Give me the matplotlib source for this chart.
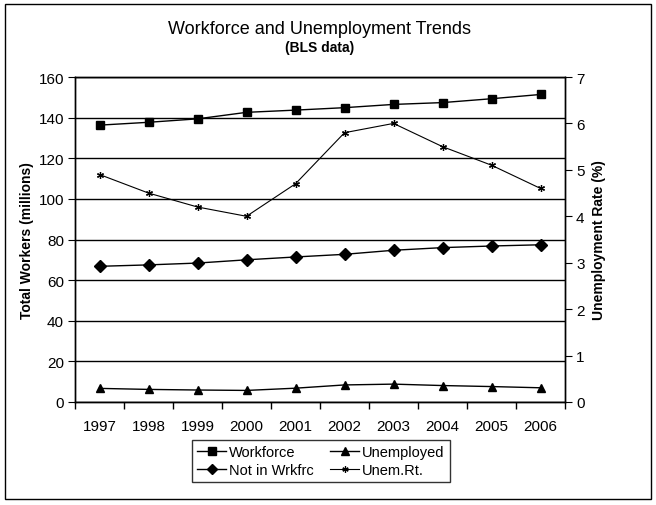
import matplotlib
matplotlib.use('Agg')
import matplotlib.pyplot as plt
import matplotlib.patches as mpatches
import numpy as np

plt.rcParams['font.family'] = ['Liberation Sans', 'DejaVu Sans']

years = ['1997', '1998', '1999', '2000', '2001', '2002', '2003', '2004', '2005', '2006']
workforce = [136.3, 137.7, 139.4, 142.6, 143.7, 144.9, 146.5, 147.4, 149.3, 151.4]
unemployed = [6.7, 6.2, 5.9, 5.7, 6.8, 8.4, 8.8, 8.1, 7.6, 7.0]
not_in_wrkfrc = [66.8, 67.5, 68.4, 70.0, 71.4, 72.7, 74.7, 76.0, 76.8, 77.4]
unem_rate = [4.9, 4.5, 4.2, 4.0, 4.7, 5.8, 6.0, 5.5, 5.1, 4.6]

W, H = 656, 506
fig = plt.figure(figsize=(W / 100, H / 100), dpi=100, facecolor='white')

# outer chart border
fig.patches.append(mpatches.Rectangle((5 / W, 6 / H), 646 / W, 495 / H,
                                      transform=fig.transFigure, fill=False,
                                      edgecolor='black', linewidth=1.0))

ax = fig.add_axes([75 / W, 1 - 403 / H, 490 / W, 325 / H])
ax2 = ax.twinx()

x = np.arange(len(years))

ax.plot(x, workforce, color='black', linewidth=1.0, marker='s', markersize=6, label='Workforce')
ax.plot(x, unemployed, color='black', linewidth=1.0, marker='^', markersize=6, label='Unemployed')
ax.plot(x, not_in_wrkfrc, color='black', linewidth=1.0, marker='D', markersize=6, label='Not in Wrkfrc')
ax2.plot(x, unem_rate, color='black', linewidth=0.8, marker=(6, 2, 0), markersize=5,
         markeredgewidth=0.9, label='Unem.Rt.')

ax.set_xlim(-0.5, len(years) - 0.5)
ax.set_ylim(0, 160)
ax2.set_ylim(0, 7)

ax.set_yticks(np.arange(0, 161, 20))
ax2.set_yticks(np.arange(0, 8, 1))
ax.yaxis.grid(True, color='black', linewidth=1.0)
ax.set_axisbelow(True)

# category labels centered, tick marks between categories
ax.set_xticks(x)
ax.set_xticklabels(years)
ax.set_xticks(np.arange(-0.5, len(years), 1), minor=True)
ax.tick_params(axis='x', which='major', length=0, pad=12, labelsize=11)
ax.tick_params(axis='x', which='minor', length=5, direction='out', width=1)
ax.tick_params(axis='y', length=5, direction='out', labelsize=11, pad=3)
ax2.tick_params(axis='y', length=5, direction='out', labelsize=11, pad=3)

for a in (ax, ax2):
    for s in a.spines.values():
        s.set_linewidth(1.0)
        s.set_color('black')

ax.set_ylabel('Total Workers (millions)', fontsize=10, fontweight='bold', labelpad=3)
ax2.set_ylabel('Unemployment Rate (%)', fontsize=10, fontweight='bold', labelpad=5)

fig.text(0.5 * (75 + 565) / W, 1 - 29 / H, 'Workforce and Unemployment Trends',
         ha='center', va='center', fontsize=13)
fig.text(0.5 * (75 + 565) / W, 1 - 48 / H, '(BLS data)',
         ha='center', va='center', fontsize=10, fontweight='bold')

h1, l1 = ax.get_legend_handles_labels()
h2, l2 = ax2.get_legend_handles_labels()
handles = [h1[0], h1[2], h1[1], h2[0]]
labels = [l1[0], l1[2], l1[1], l2[0]]
leg = fig.legend(handles, labels, ncol=2, loc='center',
                 bbox_to_anchor=(321 / W, 1 - 462 / H), fontsize=10.5,
                 frameon=True, fancybox=False, edgecolor='black',
                 handlelength=2.0, handletextpad=0.2, columnspacing=1.1,
                 labelspacing=0.3, borderpad=0.35, markerscale=0.9)
leg.get_frame().set_linewidth(1.0)

fig.savefig('out.png', dpi=100, facecolor='white')
